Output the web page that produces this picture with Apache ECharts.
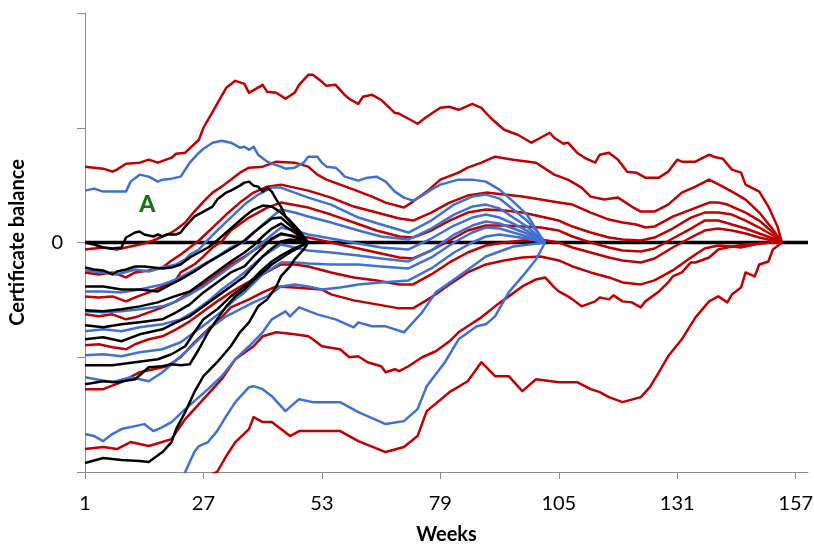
<!DOCTYPE html>
<html><head><meta charset="utf-8">
<script src="https://cdn.jsdelivr.net/npm/echarts@6/dist/echarts.min.js"></script>
<style>html,body{margin:0;padding:0;background:#fff}#c{width:814px;height:545px}</style>
</head><body><div id="c"></div>
<script>
// x tick labels (weeks)
const weekTicks = [1, 27, 53, 79, 105, 131, 157];
const zeroLine = [[1, 0], [159.7, 0]];
const labelA = [14.7, 38];

// ---- black: first period (weeks 1-50) ----
const black1 = [[1,0],[3,-2],[5,-5],[7,-6],[9,-5],[10,5],[12,10],[13,11],[14,8],[16,6],[17,8],[18,6],[19,8],[21,8],[22,10],[23,16],[25,26],[27,31],[29,36],[30,43],[32,50],[33,52],[35,57],[36,60],[37,61],[38,57],[39,56],[40,51],[41,55],[42,51],[43,43],[44,36],[45,26],[47,16],[48,10],[49,3],[50,0]];
const black2 = [[1,-25],[3,-27],[5,-28],[7,-32],[8,-29],[10,-27],[12,-24],[14,-24],[16,-25],[18,-26],[20,-25],[22,-22],[24,-15],[26,-10],[28,-5],[30,2],[32,10],[34,18],[36,26],[38,33],[40,37],[42,36],[44,30],[46,22],[48,12],[50,0]];
const black3 = [[1,-44],[5,-44],[9,-47],[13,-47],[17,-49],[19,-44],[22,-37],[25,-29],[28,-20],[31,-12],[34,-4],[36,2],[38,10],[40,17],[42,24],[44,25],[46,17],[48,9],[50,0]];
const black4 = [[1,-68],[5,-69],[9,-67],[13,-64],[17,-60],[20,-55],[24,-49],[27,-39],[30,-29],[33,-19],[36,-10],[38,-3],[40,6],[42,14],[44,19],[46,13],[48,7],[50,0]];
const black5 = [[1,-83],[5,-85],[9,-82],[13,-80],[18,-77],[21,-70],[24,-62],[27,-50],[30,-40],[33,-30],[36,-24],[38,-14],[40,-5],[42,4],[44,9],[46,7],[48,4],[50,0]];
const black6 = [[1,-97],[5,-95],[9,-99],[13,-92],[18,-87],[21,-80],[24,-74],[27,-64],[30,-54],[33,-44],[36,-34],[38,-24],[40,-14],[42,-6],[44,1],[46,3],[48,2],[50,0]];
const black7 = [[1,-123],[7,-123],[12,-120],[17,-117],[20,-112],[23,-104],[25,-90],[27,-77],[30,-67],[33,-54],[36,-44],[38,-36],[40,-27],[42,-19],[44,-13],[46,-8],[48,-4],[50,0]];
const black8 = [[1,-142],[5,-139],[8,-140],[12,-137],[15,-125],[18,-124],[20,-122],[22,-123],[24,-122],[26,-107],[28,-90],[30,-77],[32,-64],[34,-54],[36,-47],[38,-38],[40,-30],[42,-22],[44,-16],[46,-10],[48,-5],[50,0]];
const black9 = [[1,-221],[5,-216],[9,-218],[13,-219],[15,-220],[18,-210],[20,-200],[21,-187],[23,-170],[25,-150],[27,-134],[30,-120],[33,-104],[35,-90],[37,-80],[39,-64],[41,-57],[43,-44],[44,-34],[46,-24],[47,-17],[49,-7],[50,0]];

// ---- blue: second period (weeks 1-102) ----
const blue1 = [[1,52],[3,54],[5,51],[7,51],[10,51],[11,61],[13,68],[15,66],[17,61],[18,63],[20,64],[22,66],[23,73],[24,80],[26,90],[27,94],[29,100],[31,102],[33,100],[35,95],[36,96],[37,93],[38,96],[39,88],[41,81],[42,79],[44,76],[45,74],[47,75],[49,80],[50,86],[52,86],[53,80],[54,76],[56,75],[57,71],[58,66],[61,62],[63,65],[65,66],[67,61],[69,51],[71,45],[73,42],[75,47],[77,53],[79,58],[83,63],[86,63],[89,61],[92,53],[95,41],[98,28],[101,6],[102,0]];
const blue2 = [[1,-28],[5,-30],[8,-32],[12,-27],[15,-29],[18,-25],[21,-22],[23,-17],[24,-12],[26,-7],[27,-2],[30,12],[33,25],[36,38],[39,48],[42,55],[44,55],[47,50],[50,45],[55,38],[61,25],[66,18],[72,10],[77,22],[82,38],[86,46],[89,48],[92,44],[95,33],[98,22],[100,12],[102,0]];
const blue3 = [[1,-49],[5,-49],[9,-50],[13,-47],[18,-42],[21,-37],[24,-30],[27,-22],[30,-14],[33,-5],[36,1],[40,18],[44,33],[47,30],[50,26],[55,20],[61,12],[66,6],[72,3],[77,14],[82,28],[86,36],[89,38],[92,34],[95,25],[98,16],[100,8],[102,0]];
const blue4 = [[1,-69],[5,-70],[9,-69],[13,-67],[18,-64],[21,-59],[24,-52],[27,-44],[30,-34],[33,-24],[36,-15],[40,0],[44,15],[47,12],[50,8],[55,4],[61,-1],[66,-5],[72,-7],[77,4],[82,17],[86,25],[89,28],[92,25],[95,19],[98,12],[100,6],[102,0]];
const blue5 = [[1,-89],[5,-87],[9,-89],[13,-85],[18,-82],[22,-77],[25,-69],[28,-59],[31,-47],[34,-37],[36,-30],[40,-14],[44,-2],[47,-5],[50,-8],[55,-10],[61,-13],[66,-16],[72,-19],[77,-8],[82,8],[86,17],[89,21],[92,19],[95,14],[98,9],[100,5],[102,0]];
const blue6 = [[1,-113],[5,-112],[9,-114],[13,-110],[18,-107],[22,-100],[25,-90],[28,-80],[31,-69],[34,-57],[36,-50],[40,-32],[44,-20],[47,-20],[50,-21],[55,-22],[61,-22],[66,-24],[72,-26],[77,-15],[82,0],[86,10],[89,15],[92,14],[95,10],[98,6],[100,3],[102,0]];
const blue7 = [[1,-135],[7,-140],[11,-135],[15,-139],[18,-130],[23,-110],[26,-97],[29,-84],[32,-74],[35,-67],[38,-60],[41,-54],[44,-44],[47,-42],[50,-44],[53,-47],[57,-45],[61,-42],[66,-40],[72,-38],[77,-26],[82,-10],[86,0],[89,6],[92,8],[95,6],[98,4],[100,2],[102,0]];
const blue8 = [[1,-192],[3,-194],[5,-199],[7,-192],[9,-187],[12,-184],[14,-182],[16,-189],[18,-185],[20,-180],[23,-167],[25,-159],[28,-147],[31,-134],[34,-117],[37,-104],[40,-90],[42,-77],[45,-69],[46,-74],[48,-65],[52,-72],[56,-77],[60,-85],[61,-80],[64,-84],[67,-84],[71,-90],[75,-70],[78,-50],[82,-37],[86,-24],[89,-14],[95,-4],[102,0]];
const blue9 = [[20,-270],[23,-230],[25,-210],[26,-204],[28,-200],[30,-189],[32,-174],[34,-160],[37,-145],[38,-144],[40,-147],[42,-154],[45,-169],[48,-157],[51,-160],[57,-160],[61,-170],[67,-182],[71,-179],[74,-167],[76,-144],[80,-120],[83,-97],[87,-84],[89,-82],[91,-74],[94,-50],[97,-34],[100,-17],[102,0]];

// ---- red: third period (weeks 1-154) ----
const red1 = [[1,76],[3,75],[5,74],[7,71],[8,73],[10,79],[13,80],[15,83],[17,80],[20,85],[21,89],[23,90],[26,103],[27,115],[29,131],[32,155],[34,162],[36,159],[37,150],[40,158],[41,151],[43,150],[45,144],[47,150],[48,158],[50,168],[51,168],[53,161],[54,157],[56,158],[58,148],[59,144],[61,139],[62,146],[64,148],[66,143],[69,130],[70,129],[72,124],[74,119],[76,126],[79,135],[81,136],[83,133],[86,139],[88,135],[90,125],[93,113],[96,108],[99,100],[101,105],[103,110],[104,105],[106,99],[107,100],[109,90],[111,84],[113,80],[114,88],[116,90],[118,83],[120,71],[122,70],[124,65],[127,65],[129,71],[131,83],[132,81],[135,81],[138,88],[139,86],[141,84],[143,73],[145,70],[146,58],[149,51],[151,36],[153,16],[154,0]];
const red2 = [[1,-7],[5,-5],[8,-7],[11,-4],[14,-1],[16,2],[18,6],[20,10],[21,13],[23,20],[25,31],[27,41],[29,50],[31,56],[33,63],[35,70],[37,75],[40,76],[43,81],[47,80],[50,76],[52,68],[54,63],[57,58],[60,53],[64,46],[67,40],[71,35],[73,41],[76,51],[79,63],[83,70],[85,75],[88,80],[91,86],[95,83],[100,80],[104,68],[107,63],[110,55],[112,46],[115,43],[118,45],[121,36],[123,31],[126,31],[129,38],[132,50],[135,56],[138,63],[141,56],[143,51],[146,43],[149,30],[152,13],[154,0]];
const red3 = [[1,-30],[4,-32],[7,-30],[10,-35],[12,-30],[15,-28],[18,-25],[20,-18],[22,-12],[24,-5],[26,2],[29,15],[32,28],[35,40],[38,50],[41,56],[44,58],[47,55],[50,52],[55,45],[60,36],[65,30],[70,24],[73,22],[77,30],[81,40],[85,47],[89,50],[93,48],[97,46],[101,43],[105,40],[108,38],[112,30],[116,23],[119,20],[122,18],[124,15],[126,16],[128,21],[130,26],[134,33],[138,40],[140,40],[142,38],[146,30],[149,22],[152,10],[154,0]];
const red4 = [[1,-54],[4,-55],[7,-54],[10,-59],[12,-55],[15,-50],[18,-44],[21,-37],[22,-30],[25,-22],[27,-14],[29,-5],[31,1],[33,12],[37,25],[41,35],[44,40],[50,35],[55,28],[60,20],[65,12],[70,6],[73,5],[77,12],[81,22],[85,30],[89,33],[93,32],[97,30],[101,26],[105,22],[108,16],[112,10],[116,5],[119,3],[123,2],[126,5],[130,14],[134,25],[137,30],[140,30],[143,28],[146,22],[149,15],[152,7],[154,0]];
const red5 = [[1,-72],[4,-74],[7,-72],[10,-77],[12,-75],[15,-70],[18,-65],[21,-59],[24,-50],[27,-42],[30,-32],[33,-22],[36,-14],[40,-2],[44,8],[50,5],[55,0],[60,-5],[65,-10],[70,-15],[73,-16],[77,-8],[81,2],[85,12],[89,17],[93,17],[97,16],[101,15],[105,12],[108,6],[112,0],[116,-5],[119,-8],[123,-9],[126,-6],[130,4],[134,14],[137,22],[140,22],[143,18],[146,14],[149,9],[152,4],[154,0]];
const red6 = [[1,-103],[4,-102],[7,-105],[10,-107],[12,-102],[15,-97],[18,-94],[21,-87],[24,-79],[27,-69],[30,-59],[33,-50],[36,-42],[40,-32],[44,-22],[47,-22],[50,-24],[55,-30],[60,-35],[65,-38],[70,-42],[73,-42],[77,-32],[81,-20],[85,-10],[89,-3],[93,0],[97,2],[101,3],[105,0],[108,-5],[112,-10],[116,-15],[119,-18],[123,-20],[126,-16],[130,-5],[134,5],[137,12],[140,14],[143,12],[146,9],[149,5],[152,2],[154,0]];
const red7 = [[1,-147],[5,-147],[9,-140],[11,-135],[13,-130],[16,-127],[19,-124],[22,-115],[25,-100],[28,-87],[31,-75],[33,-65],[37,-57],[40,-50],[43,-44],[47,-45],[53,-47],[55,-52],[60,-58],[65,-62],[70,-66],[73,-66],[77,-55],[81,-42],[85,-30],[89,-22],[93,-18],[97,-15],[101,-14],[105,-18],[108,-24],[112,-30],[116,-35],[119,-40],[123,-42],[126,-38],[130,-28],[134,-15],[137,-6],[140,-3],[143,-4],[146,-2],[149,-1],[152,0],[154,0]];
const red8 = [[1,-207],[5,-205],[8,-207],[11,-200],[15,-204],[20,-197],[23,-177],[27,-157],[31,-137],[34,-117],[38,-104],[40,-94],[43,-90],[47,-92],[50,-94],[51,-97],[53,-104],[57,-107],[59,-115],[61,-114],[63,-120],[66,-124],[67,-130],[69,-127],[70,-129],[72,-124],[75,-115],[78,-109],[81,-99],[83,-90],[85,-84],[88,-75],[91,-64],[94,-54],[97,-44],[100,-37],[102,-35],[104,-45],[105,-49],[107,-54],[108,-57],[110,-64],[113,-59],[114,-55],[116,-57],[117,-53],[119,-59],[121,-60],[123,-65],[124,-59],[127,-49],[129,-40],[130,-34],[132,-30],[134,-20],[135,-20],[138,-15],[140,-7],[143,-4],[145,-5],[148,-2],[151,0],[154,0]];
const red9 = [[27,-265],[29,-232],[30,-230],[32,-214],[34,-200],[37,-187],[38,-175],[40,-180],[42,-180],[44,-187],[46,-194],[48,-189],[51,-189],[57,-189],[61,-199],[67,-210],[71,-205],[74,-194],[76,-169],[81,-150],[85,-139],[88,-120],[91,-134],[94,-134],[97,-149],[100,-137],[105,-140],[109,-140],[112,-147],[114,-150],[116,-155],[119,-160],[123,-155],[125,-145],[127,-130],[129,-114],[132,-97],[135,-75],[138,-59],[140,-54],[142,-60],[143,-52],[145,-45],[146,-30],[148,-34],[149,-22],[151,-19],[152,-7],[154,0]];

const blackLines = [black1, black2, black3, black4, black5, black6, black7, black8, black9];
const blueLines = [blue1, blue2, blue3, blue4, blue5, blue6, blue7, blue8, blue9];
const redLines = [red1, red2, red3, red4, red5, red6, red7, red8, red9];

const FONT = 'Lato, "Open Sans", sans-serif';
const AXIS_GREY = '#8c8c8c';
function lineSeries(data, color) {
  return { type: 'line', data: data, symbol: 'none', silent: true, clip: true,
    lineStyle: { color: color, width: 2.5, join: 'round' } };
}
const series = [];
series.push({ type: 'line', data: zeroLine, symbol: 'none', silent: true, lineStyle: { color: '#000', width: 3.5 } });
redLines.forEach(d => series.push(lineSeries(d, '#C00000')));
blueLines.forEach(d => series.push(lineSeries(d, '#3F70D2')));
blackLines.forEach(d => series.push(lineSeries(d, '#000000')));
series.push({ type: 'scatter', data: [labelA], symbolSize: 0, silent: true, z: 10,
  itemStyle: { opacity: 1 },
  label: { show: true, position: 'inside', formatter: 'A', color: '#137313', opacity: 1, fontSize: 23, fontWeight: 900, fontFamily: FONT } });

const chart = echarts.init(document.getElementById('c'), null, { renderer: 'canvas' });
chart.setOption({
  animation: false,
  backgroundColor: '#ffffff',
  grid: { left: 85, right: 6, top: 13, bottom: 73, containLabel: false, outerBoundsMode: 'none' },
  xAxis: {
    type: 'value', min: 1, max: 159.7,
    name: 'Weeks', nameLocation: 'middle', nameGap: 53,
    nameTextStyle: { fontFamily: FONT, fontSize: 20, fontWeight: 'bold', color: '#000' },
    axisLine: { onZero: false, lineStyle: { color: AXIS_GREY, width: 1 } },
    axisTick: { show: true, length: 7, customValues: weekTicks, lineStyle: { color: AXIS_GREY } },
    axisLabel: { customValues: weekTicks, margin: 22, fontFamily: FONT, fontSize: 20, color: '#000' },
    splitLine: { show: false }
  },
  yAxis: {
    type: 'value', min: -230, max: 230, interval: 115,
    name: 'Certificate balance', nameLocation: 'middle', nameGap: 57, nameRotate: 90,
    nameTextStyle: { fontFamily: FONT, fontSize: 20, fontWeight: 'bold', color: '#000' },
    axisLine: { show: true, lineStyle: { color: AXIS_GREY, width: 1 } },
    axisTick: { show: true, length: 8, lineStyle: { color: AXIS_GREY } },
    axisLabel: { margin: 22, fontFamily: FONT, fontSize: 20, color: '#000',
      formatter: v => (v === 0 ? '0' : '') },
    splitLine: { show: false }
  },
  series: series
});
</script></body></html>
